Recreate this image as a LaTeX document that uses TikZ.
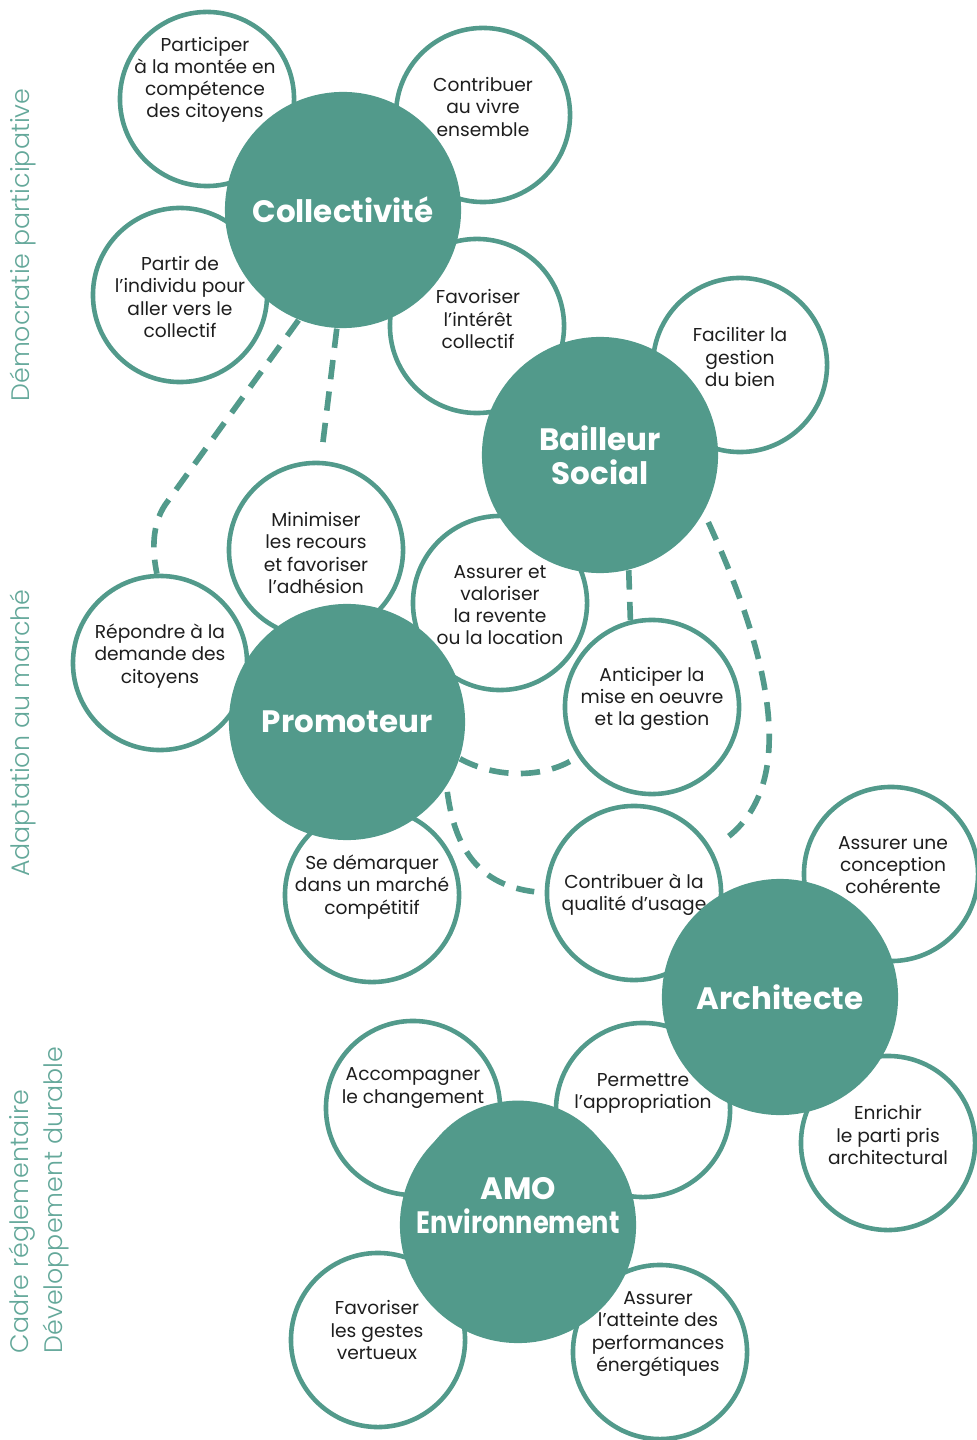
\documentclass[tikz,border=0pt]{standalone}
\usepackage{fontspec}
\setmainfont{Poppins}
\newfontfamily\sidefont{Poppins Light}
\definecolor{hubteal}{RGB}{82,154,139}
\definecolor{sideteal}{RGB}{100,168,154}
\definecolor{inkgrey}{RGB}{30,30,30}
\tikzset{
  hub/.style={circle,fill=hubteal,minimum size=2.36cm,inner sep=0pt,text=white,
    font=\fontsize{8.8}{9.7}\selectfont\bfseries,align=center},
  bubble/.style={circle,draw=hubteal,line width=1.3pt,fill=white,minimum size=1.74cm,inner sep=0pt},
  note/.style={text=inkgrey,font=\fontsize{5.3}{6.3}\selectfont,align=center,inner sep=0pt},
  side/.style={text=sideteal,font=\sidefont\fontsize{7.2}{9.4}\selectfont,rotate=90,inner sep=0pt},
  link/.style={draw=hubteal,line width=1.6pt,dash pattern=on 5.5pt off 3.5pt}
}

\begin{document}
\begin{tikzpicture}[x=0.01cm,y=-0.01cm]
\useasboundingbox (0,0) rectangle (977,1440);

% side headings
\node[side] (dem) at (23,245) {Démocratie participative};
\node[side] (mar) at (23,733) {Adaptation au marché};
\node[side,align=left] (dur) at (39,1200) {Cadre réglementaire\\Développement durable};

% goals around each actor
\node[bubble] (part) at (207,99) {};
\node[note] (part-t) at (205,80) {Participer\\à la montée en\\compétence\\des citoyens};
\node[bubble] (vivre) at (483,115) {};
\node[note] (vivre-t) at (483,107) {Contribuer\\au vivre\\ensemble};
\node[bubble] (indiv) at (180,295) {};
\node[note] (indiv-t) at (180,297) {Partir de\\l'individu pour\\aller vers le\\collectif};
\node[bubble] (inter) at (477,326) {};
\node[note] (inter-t) at (478,319) {Favoriser\\l'intérêt\\collectif};
\node[bubble] (gest) at (740,365) {};
\node[note] (gest-t) at (740,357) {Faciliter la\\gestion\\du bien};
\node[bubble] (mini) at (316,550) {};
\node[note] (mini-t) at (316,553) {Minimiser\\les recours\\et favoriser\\l'adhésion};
\node[bubble] (reve) at (500,603) {};
\node[note] (reve-t) at (500,605) {Assurer et\\valoriser\\la revente\\ou la location};
\node[bubble] (rep) at (160,663) {};
\node[note] (rep-t) at (160,656) {Répondre à la\\demande des\\citoyens};
\node[bubble] (anti) at (652,707) {};
\node[note] (anti-t) at (652,699) {Anticiper la\\mise en oeuvre\\et la gestion};
\node[bubble] (marc) at (372,895) {};
\node[note] (marc-t) at (372,887) {Se démarquer\\dans un marché\\compétitif};
\node[bubble] (qual) at (634,893) {};
\node[note] (qual-t) at (634,895) {Contribuer à la\\qualité d'usage};
\node[bubble] (conc) at (891,874) {};
\node[note] (conc-t) at (893,865) {Assurer une\\conception\\cohérente};
\node[bubble] (enri) at (888,1143) {};
\node[note] (enri-t) at (888,1135) {Enrichir\\le parti pris\\architectural};
\node[bubble] (appr) at (643,1110) {};
\node[note] (appr-t) at (643,1093) {Permettre\\l'appropriation};
\node[bubble] (chan) at (413,1108) {};
\node[note] (chan-t) at (413,1088) {Accompagner\\le changement};
\node[bubble] (vert) at (378,1340) {};
\node[note] (vert-t) at (377,1330) {Favoriser\\les gestes\\vertueux};
\node[bubble] (ener) at (660,1352) {};
\node[note] (ener-t) at (658,1334) {Assurer\\l'atteinte des\\performances\\énergétiques};

% actors
\node[hub] (coll) at (343,210) {Collectivité};
\node[hub] (bail) at (600,455) {Bailleur\\Social};
\node[hub] (prom) at (347,722) {Promoteur};
\node[hub] (arch) at (780,997) {Architecte};
\node[hub] (amo) at (518,1225) {};
\node[hub,minimum size=0pt] (amo-t) at (518,1206) {AMO\\\scalebox{0.83}[1]{Environnement}};

% dashed links
\draw[link] (coll.248) -- (165,505) .. controls (152,525) and (152,550) .. (rep.92);
\draw[link,shorten >=2pt] (coll.267) -- (mini.87);
\draw[link] (bail.284) -- (anti.104);
\draw[link,shorten <=3pt,shorten >=3pt] (bail.331) .. controls (790,700) and (785,800) .. (qual.30);
\draw[link,shorten >=2.5pt] (prom.342) .. controls (495,778) and (540,778) .. (anti.214);
\draw[link,shorten <=1.5pt,shorten >=3pt] (prom.327) .. controls (455,850) and (480,885) .. (qual.180);
\end{tikzpicture}
\end{document}
